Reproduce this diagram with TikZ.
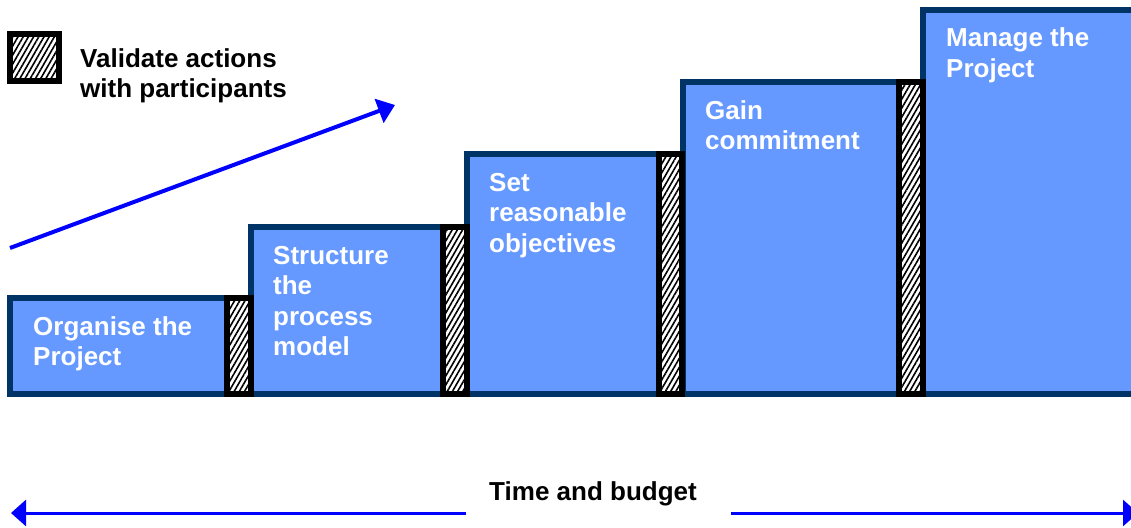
\documentclass[tikz,border=0pt]{standalone}
\usepackage{fontspec}
\setmainfont{Liberation Sans}
\usetikzlibrary{arrows.meta,patterns.meta}
\definecolor{stepfill}{RGB}{102,153,255}
\definecolor{stepline}{RGB}{0,51,102}
\definecolor{arrowblue}{RGB}{0,0,255}
\tikzset{
  stepbox/.style={draw=stepline, fill=stepfill, line width=6pt, anchor=north west,
    inner sep=0pt, outer sep=0pt},
  gate/.style={draw=black, line width=6pt, preaction={fill=white},
    pattern={Lines[angle=60,distance=4.5pt,line width=1.6pt]},
    anchor=north west, inner sep=0pt, outer sep=0pt},
  % multi-line labels are placed by the baseline of their last line
  steptext/.style={text=white, font=\fontsize{26}{30.5}\selectfont\bfseries,
    align=left, anchor=base west, inner sep=0pt},
  darktext/.style={steptext, text=black},
  timearrow/.style={draw=arrowblue, line width=3pt, -{Triangle[length=15pt,width=26pt]}},
  trendarrow/.style={draw=arrowblue, line width=4pt, -{Triangle[length=17pt,width=25pt]}}
}
\begin{document}
\begin{tikzpicture}[x=1pt,y=-1pt]
  \useasboundingbox (0,0) rectangle (1131,527);
  \clip (0,0) rectangle (1131,527);

  % the five steps of the staircase
  \node[stepbox, minimum width=217pt, minimum height=96pt]  (b1) at (10,298) {};
  \node[stepbox, minimum width=192pt, minimum height=167pt] (b2) at (251,227) {};
  \node[stepbox, minimum width=192pt, minimum height=240pt] (b3) at (467,154) {};
  \node[stepbox, minimum width=216pt, minimum height=312pt] (b4) at (683,82) {};
  \node[stepbox, minimum width=219pt, minimum height=384pt] (b5) at (923,10) {};

  % validation gates between the steps
  \node[gate, minimum width=24pt, minimum height=96pt]  (g1) at (227,298) {};
  \node[gate, minimum width=24pt, minimum height=167pt] (g2) at (443,227) {};
  \node[gate, minimum width=23pt, minimum height=240pt] (g3) at (659,154) {};
  \node[gate, minimum width=24pt, minimum height=312pt] (g4) at (899,82) {};

  % step labels
  \node[steptext] (t1) at (33,365.5)  {Organise the\\Project};
  \node[steptext] (t2) at (273,355.5) {Structure\\the\\process\\model};
  \node[steptext] (t3) at (489,252)   {Set\\reasonable\\objectives};
  \node[steptext] (t4) at (705,149.5) {Gain\\commitment};
  \node[steptext] (t5) at (946,77.5)  {Manage the\\Project};

  % legend
  \node[gate, minimum width=49pt, minimum height=47pt] (lg) at (10,34) {};
  \node[darktext] (lt) at (80,97.5) {Validate actions\\with participants};

  % rising trend arrow
  \coordinate (r0) at (10,248);
  \coordinate (r1) at (395,105);
  \draw[trendarrow] (r0) -- (r1);

  % time and budget axis
  \node[darktext, anchor=base] (tb) at (593,500) {Time and budget};
  \coordinate (tl0) at (466,513);
  \coordinate (tl1) at (11,513);
  \coordinate (tr0) at (731,513);
  \coordinate (tr1) at (1138,513);
  \draw[timearrow] (tl0) -- (tl1);
  \draw[timearrow] (tr0) -- (tr1);
\end{tikzpicture}
\end{document}
